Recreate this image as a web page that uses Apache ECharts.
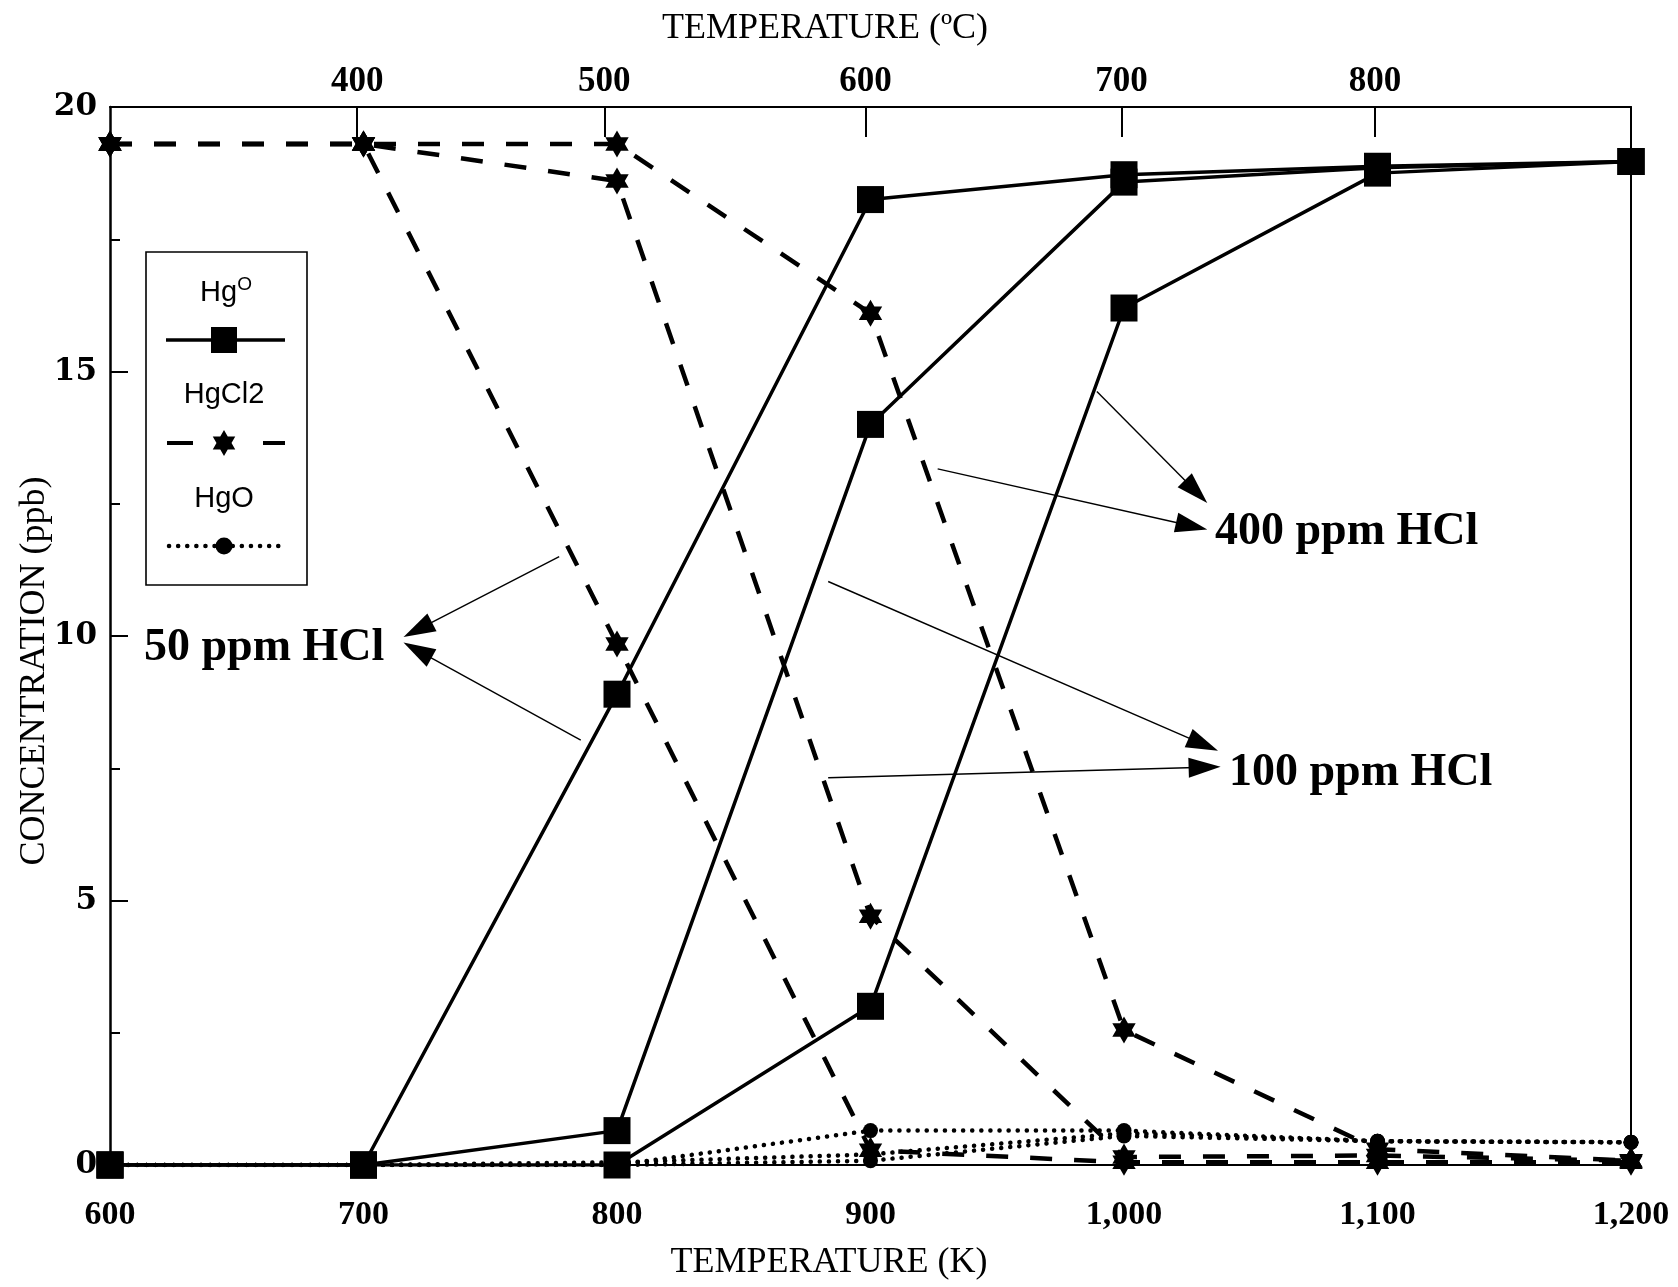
<!DOCTYPE html>
<html>
<head>
<meta charset="utf-8">
<script src="https://cdn.jsdelivr.net/npm/echarts@6/dist/echarts.min.js"></script>
<style>
html,body{margin:0;padding:0;background:#fff;}
#chart{width:1678px;height:1287px;}
</style>
</head>
<body>
<div id="chart"></div>
<script>
// ---- data ----
const temps = [600, 700, 800, 900, 1000, 1100, 1200];
const hg0_50 = [0, 0, 8.9, 18.25, 18.72, 18.88, 18.97];
const hg0_100 = [0, 0, 0.65, 14.0, 18.58, 18.85, 18.97];
const hg0_400 = [0, 0, 0, 3.0, 16.2, 18.75, 18.97];
const hgcl2_50 = [19.3, 19.3, 9.85, 0.28, 0.05, 0.05, 0.05];
const hgcl2_100 = [19.3, 19.3, 18.6, 4.7, 0.15, 0.18, 0.08];
const hgcl2_400 = [19.3, 19.3, 19.3, 16.1, 2.55, 0.3, 0.08];
const hgo_50 = [0, 0, 0, 0.65, 0.65, 0.45, 0.43];
const hgo_100 = [0, 0, 0.05, 0.2, 0.6, 0.45, 0.43];
const hgo_400 = [0, 0, 0, 0.08, 0.55, 0.45, 0.43];
const xTicks = [600, 700, 800, 900, 1000, 1100, 1200];
const yTicks = [0, 5, 10, 15, 20];
const topTickK = [697.5, 795, 898, 999, 1099];
const topTickLabels = ['400', '500', '600', '700', '800'];
// annotation arrows: [startK, startC, endK, endC]
const arrows = [
  [777.2, 11.5, 721.4, 10.12],
  [785.7, 8.03, 721.3, 9.73],
  [989.3, 14.62, 1028.4, 12.73],
  [926.5, 13.16, 1026.7, 12.08],
  [883.3, 11.03, 1031.3, 7.95],
  [883.3, 7.32, 1031.8, 7.52]
];

const STAR = 'path://M100 0L128.87 50L186.6 50L157.74 100L186.6 150L128.87 150L100 200L71.13 150L13.4 150L42.26 100L13.4 50L71.13 50Z';
const SERIF = '"Liberation Serif", "Times New Roman", serif';
const SANS = '"Liberation Sans", Arial, sans-serif';

function pairs(ys) { return temps.map((t, i) => [t, ys[i]]); }

function hg0(name, ys) {
  return { name: 'Hg°', type: 'line', data: pairs(ys), symbol: 'rect', symbolSize: 27,
    itemStyle: { color: '#000' }, lineStyle: { color: '#000', width: 3.5, type: 'solid' }, z: 5, animation: false };
}
function hgcl2(name, ys) {
  return { name: 'HgCl2', type: 'line', data: pairs(ys), symbol: STAR, symbolSize: 27, symbolKeepAspect: true,
    itemStyle: { color: '#000' }, lineStyle: { color: '#000', width: 4.5, type: [22, 22] }, z: 4, animation: false };
}
function hgo(name, ys) {
  return { name: 'HgO', type: 'line', data: pairs(ys), symbol: 'circle', symbolSize: 15,
    itemStyle: { color: '#000' }, lineStyle: { color: '#000', width: 4.5, type: [0.1, 9], cap: 'round' }, z: 3, animation: false };
}

function hexPts(cx, cy, r) {
  const pts = [];
  for (let k = 0; k < 12; k++) {
    const a = (-90 + k * 30) * Math.PI / 180;
    const rr = k % 2 === 0 ? r : r / Math.sqrt(3);
    pts.push([cx + rr * Math.cos(a), cy + rr * Math.sin(a)]);
  }
  return pts;
}

const chart = echarts.init(document.getElementById('chart'), null, { renderer: 'canvas' });

const series = [
  hg0('50', hg0_50), hg0('100', hg0_100), hg0('400', hg0_400),
  hgcl2('50', hgcl2_50), hgcl2('100', hgcl2_100), hgcl2('400', hgcl2_400),
  hgo('50', hgo_50), hgo('100', hgo_100), hgo('400', hgo_400),
  {
    name: 'arrows', type: 'line', data: [], animation: false,
    markLine: {
      silent: true, animation: false,
      symbol: ['none', 'triangle'], symbolSize: [20, 32],
      label: { show: false },
      lineStyle: { color: '#000', width: 1.4, type: 'solid' },
      data: arrows.map(a => [{ coord: [a[0], a[1]] }, { coord: [a[2], a[3]] }])
    }
  }
];

const option = {
  backgroundColor: '#fff',
  animation: false,
  grid: { left: 110, right: 47, top: 107, bottom: 122 },
  xAxis: [
    {
      type: 'value', position: 'bottom', min: 600, max: 1200, interval: 100,
      axisLine: { show: true, onZero: false, lineStyle: { color: '#000', width: 2 } },
      axisTick: { show: false },
      splitLine: { show: false },
      axisLabel: { color: '#000', fontFamily: SERIF, fontWeight: 'bold', fontSize: 34, margin: 33,
        formatter: v => v >= 1000 ? Math.floor(v / 1000) + ',' + String(v % 1000).padStart(3, '0') : String(v) }
    },
    {
      type: 'value', position: 'top', min: 600, max: 1200,
      axisLine: { show: true, onZero: false, lineStyle: { color: '#000', width: 2 } },
      axisTick: { show: true, inside: true, length: 30, customValues: topTickK, lineStyle: { color: '#000', width: 2 } },
      splitLine: { show: false },
      axisLabel: { customValues: topTickK, color: '#000', fontFamily: SERIF, fontWeight: 'bold', fontSize: 35, margin: 8,
        formatter: v => { const i = topTickK.indexOf(v); return i >= 0 ? topTickLabels[i] : ''; } }
    }
  ],
  yAxis: [
    {
      type: 'value', position: 'left', min: 0, max: 20, interval: 5,
      axisLine: { show: true, onZero: false, lineStyle: { color: '#000', width: 2.5 } },
      axisTick: { show: true, inside: true, length: 18, lineStyle: { color: '#000', width: 2 } },
      minorTick: { show: true, splitNumber: 2, length: 10, lineStyle: { color: '#000', width: 2 } },
      splitLine: { show: false },
      axisLabel: { color: '#000', fontFamily: '"DejaVu Serif", serif', fontWeight: 'bold', fontSize: 31, margin: 13 }
    },
    {
      type: 'value', position: 'right', min: 0, max: 20,
      axisLine: { show: true, onZero: false, lineStyle: { color: '#000', width: 2 } },
      axisTick: { show: false }, axisLabel: { show: false }, splitLine: { show: false }
    }
  ],
  series: series,
  graphic: [
    { type: 'text', style: { text: 'TEMPERATURE (ºC)', font: '36px ' + SERIF, fill: '#000', x: 825, y: 29, align: 'center', verticalAlign: 'middle' } },
    { type: 'text', style: { text: 'TEMPERATURE (K)', font: '36px ' + SERIF, fill: '#000', x: 829, y: 1263, align: 'center', verticalAlign: 'middle' } },
    { type: 'text', x: 35, y: 671, rotation: Math.PI / 2, style: { text: 'CONCENTRATION (ppb)', font: '36px ' + SERIF, fill: '#000', x: 0, y: 0, align: 'center', verticalAlign: 'middle' } },
    // annotations
    { type: 'text', style: { text: '50 ppm HCl', font: 'bold 46px ' + SERIF, fill: '#000', x: 144, y: 648, align: 'left', verticalAlign: 'middle' } },
    { type: 'text', style: { text: '400 ppm HCl', font: 'bold 46px ' + SERIF, fill: '#000', x: 1215, y: 532, align: 'left', verticalAlign: 'middle' } },
    { type: 'text', style: { text: '100 ppm HCl', font: 'bold 46px ' + SERIF, fill: '#000', x: 1229, y: 773, align: 'left', verticalAlign: 'middle' } },
    // legend box
    { type: 'rect', shape: { x: 146, y: 252, width: 161, height: 333 }, style: { fill: '#fff', stroke: '#000', lineWidth: 1.6 }, z: 10 },
    { type: 'text', z: 11, style: { rich: { a: { font: '29px ' + SANS, fill: '#000' }, s: { font: '19px ' + SANS, fill: '#000', verticalAlign: 'top', padding: [0, 0, 16, 0] } },
        text: '{a|Hg}{s|O}', x: 226, y: 293, align: 'center', verticalAlign: 'middle' } },
    { type: 'line', z: 11, shape: { x1: 166, y1: 340, x2: 285, y2: 340 }, style: { stroke: '#000', lineWidth: 3.5 } },
    { type: 'rect', z: 12, shape: { x: 211, y: 327, width: 26, height: 26 }, style: { fill: '#000' } },
    { type: 'text', z: 11, style: { text: 'HgCl2', font: '29px ' + SANS, fill: '#000', x: 224, y: 395, align: 'center', verticalAlign: 'middle' } },
    { type: 'line', z: 11, shape: { x1: 167, y1: 443, x2: 193, y2: 443 }, style: { stroke: '#000', lineWidth: 4 } },
    { type: 'line', z: 11, shape: { x1: 263, y1: 443, x2: 285, y2: 443 }, style: { stroke: '#000', lineWidth: 4 } },
    { type: 'polygon', z: 12, shape: { points: hexPts(224, 443, 13) }, style: { fill: '#000' } },
    { type: 'text', z: 11, style: { text: 'HgO', font: '29px ' + SANS, fill: '#000', x: 224, y: 499, align: 'center', verticalAlign: 'middle' } },
    { type: 'line', z: 11, shape: { x1: 169, y1: 546, x2: 280, y2: 546 }, style: { stroke: '#000', lineWidth: 4.5, lineDash: [0.1, 9], lineCap: 'round' } },
    { type: 'circle', z: 12, shape: { cx: 224, cy: 546, r: 8.5 }, style: { fill: '#000' } }
  ]
};
chart.setOption(option);
</script>
</body>
</html>
